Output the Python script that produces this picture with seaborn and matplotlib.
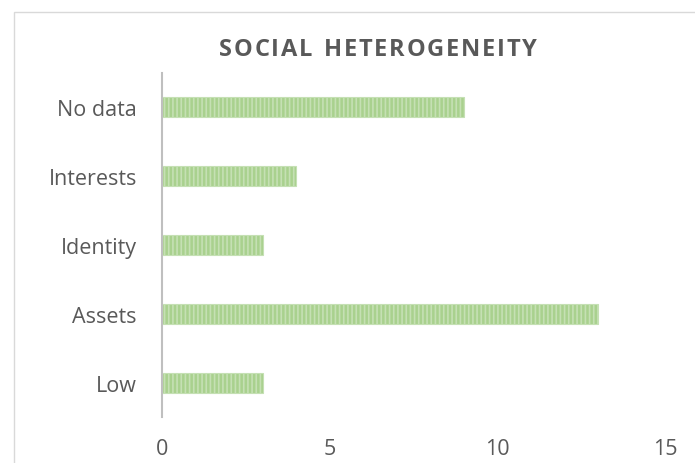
import matplotlib
matplotlib.use("Agg")
import matplotlib.pyplot as plt
import seaborn as sns
import pandas as pd
from matplotlib.patches import Rectangle

categories = ["No data", "Interests", "Identity", "Assets", "Low"]
counts = [9, 4, 3, 13, 3]
x_ticks = [0, 5, 10, 15]
title = "SOCIAL HETEROGENEITY"

sns.set_style("white")
plt.rcParams["font.family"] = ["Open Sans", "DejaVu Sans"]
plt.rcParams["hatch.linewidth"] = 1.2
plt.rcParams["hatch.color"] = "#66ad3a"

df = pd.DataFrame({"category": categories, "count": counts})

fig = plt.figure(figsize=(6.95, 4.64), dpi=100)
# chart frame
fig.patches.append(Rectangle((14 / 695, -0.1), 1.0, 1 - 13 / 464 + 0.1,
                             transform=fig.transFigure, fill=False,
                             edgecolor="#d9d9d9", linewidth=1.0))
ax = fig.add_axes([162 / 695, 1 - 418 / 464, (665 - 162) / 695, (418 - 74) / 464])

sns.barplot(data=df, x="count", y="category", order=categories, orient="h",
            color="#a9d18e", width=0.29, ax=ax, saturation=1)
for p in ax.patches:
    p.set_hatch("||||")
    p.set_edgecolor("#c5e0b4")
    p.set_linewidth(0.8)

ax.set_xlim(0, 15)
ax.set_xticks(x_ticks)
ax.set_ylim(4.5, -0.5)
ax.set_xlabel("")
ax.set_ylabel("")
for s in ["top", "right", "bottom"]:
    ax.spines[s].set_visible(False)
ax.spines["left"].set_color("#bfbfbf")
ax.spines["left"].set_linewidth(1.5)
ax.tick_params(axis="x", length=0, pad=15, labelsize=15.5, labelcolor="#595959")
ax.tick_params(axis="y", length=0, pad=18, labelsize=15.5, labelcolor="#595959")

# letter-spaced title
renderer = fig.canvas.get_renderer()
spacing = 1.8  # extra pixels between letters
props = dict(fontsize=17, fontweight="bold", color="#595959", va="center", ha="left")
widths = []
for ch in title:
    t = fig.text(0, 0, ch if ch != " " else "I", **props)
    w = t.get_window_extent(renderer).width
    widths.append(w)
    t.remove()
total = sum(widths) + spacing * (len(title) - 1)
x = 378 - total / 2
y = 1 - 50 / 464
for ch, w in zip(title, widths):
    if ch != " ":
        fig.text(x / 695, y, ch, **props)
    x += w + spacing

fig.savefig("out.png", dpi=100)
